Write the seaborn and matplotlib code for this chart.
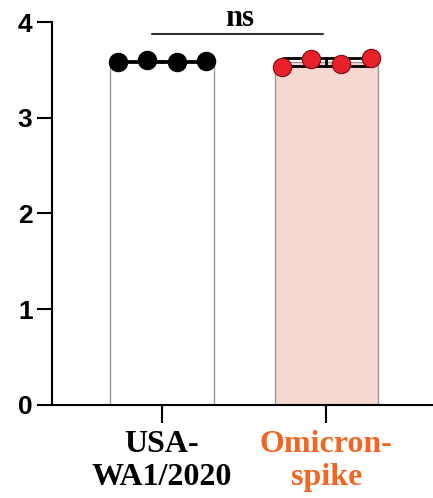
import numpy as np
import pandas as pd
import seaborn as sns
import matplotlib.pyplot as plt

# group labels and replicate values
groups = ["USA-\nWA1/2020", "Omicron-\nspike"]
usa_vals = [3.58, 3.60, 3.58, 3.59]
omicron_vals = [3.53, 3.61, 3.56, 3.62]
y_ticks = [0, 1, 2, 3, 4]
sig_label = "ns"

bar_colors = ["#ffffff", "#fad4cb"]
dot_colors = ["#000000", "#e8202a"]
label_colors = ["#000000", "#f26522"]

df = pd.DataFrame({
    "group": [groups[0]] * len(usa_vals) + [groups[1]] * len(omicron_vals),
    "value": usa_vals + omicron_vals,
})

sns.set_style("ticks", {"axes.edgecolor": "black", "xtick.color": "black",
                        "ytick.color": "black", "text.color": "black"})
fig = plt.figure(figsize=(4.33, 4.98), dpi=100)
ax = fig.add_axes([0.12, 0.187, 0.88, 0.813])

sns.barplot(data=df, x="group", y="value", hue="group", order=groups,
            palette=dict(zip(groups, bar_colors)), errorbar="sd",
            capsize=0.53, err_kws={"color": "black", "linewidth": 2},
            edgecolor="#9a9a9a", linewidth=1, width=0.63, legend=False, ax=ax)

# individual replicates spread across each bar
for i, vals in enumerate([usa_vals, omicron_vals]):
    offs = np.linspace(-0.27, 0.27, len(vals))
    ec = "#000000" if i == 0 else "#7a1010"
    ax.scatter(i + offs, vals, s=175, color=dot_colors[i], edgecolor=ec,
               linewidth=0.8, zorder=5)

# significance bracket
ax.plot([-0.06, 0.98], [3.88, 3.88], color="#333333", linewidth=1.5)
ax.text(0.47, 3.96, sig_label, ha="center", va="baseline", color="black",
        fontsize=22, fontweight="bold", family="Liberation Serif")

ax.set_xlim(-0.67, 1.65)
ax.set_ylim(0, 4.23)
ax.set_yticks(y_ticks)
ax.set_yticklabels([str(t) for t in y_ticks], fontsize=19, color="black",
                   fontweight="heavy", family="Liberation Sans")
ax.set_xticks(range(len(groups)))
ax.set_xticklabels(groups, fontsize=23, fontweight="bold",
                   family="Liberation Serif", linespacing=1.2)
for lbl, c in zip(ax.get_xticklabels(), label_colors):
    lbl.set_color(c)

ax.set_xlabel("")
ax.set_ylabel("")
ax.spines["top"].set_visible(False)
ax.spines["right"].set_visible(False)
ax.spines["left"].set_bounds(0, 4)
ax.spines["left"].set_linewidth(1.5)
ax.spines["bottom"].set_linewidth(1.5)
ax.tick_params(axis="y", length=11, width=1.5, pad=3)
ax.tick_params(axis="x", length=13, width=1.5, pad=5)

fig.savefig("out.png", dpi=100)
